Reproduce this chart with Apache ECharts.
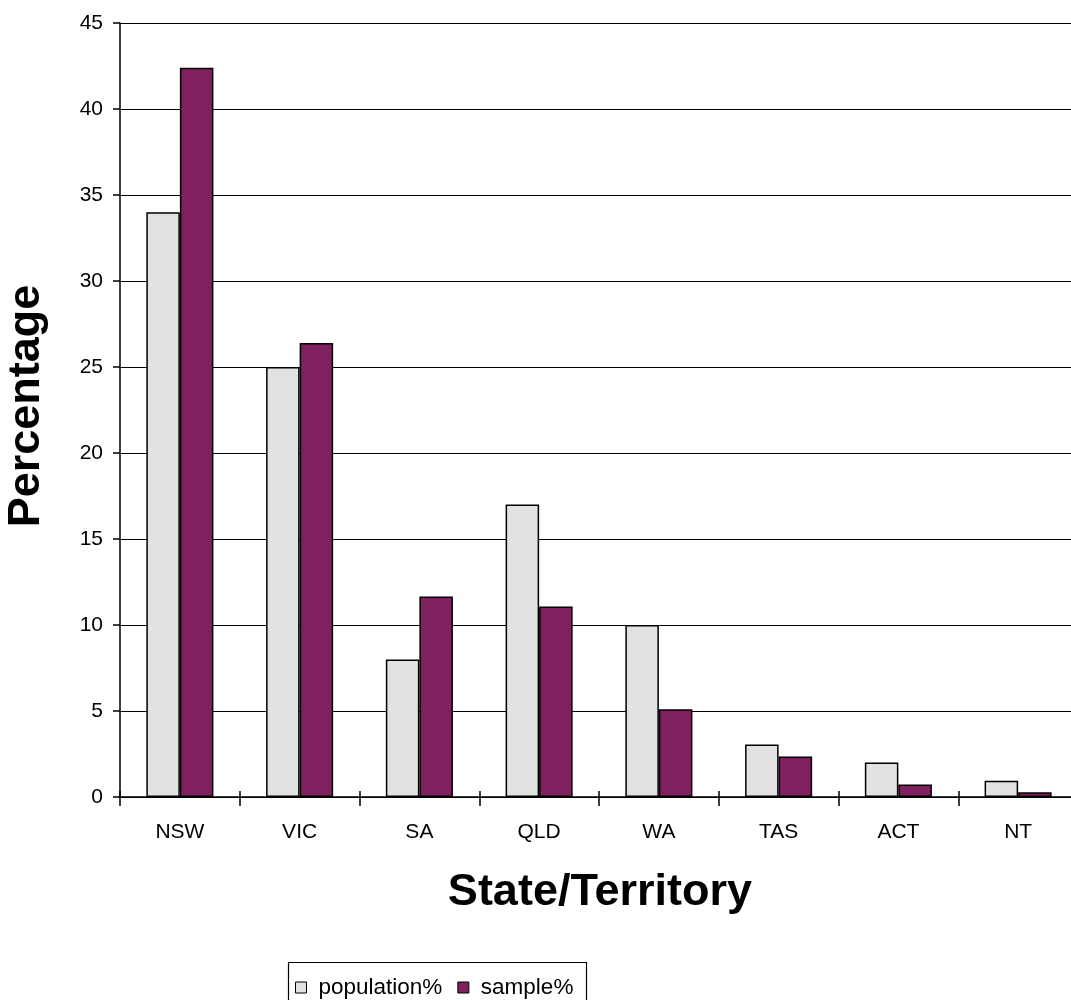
<!DOCTYPE html>
<html>
<head>
<meta charset="utf-8">
<script src="https://cdn.jsdelivr.net/npm/echarts@6/dist/echarts.min.js"></script>
<style>
  html, body { margin: 0; padding: 0; background: #fff; overflow: hidden; }
  /* canvas slightly wider than the window so the plot area runs off the right edge */
  #chart { width: 1078px; height: 1000px; }
</style>
</head>
<body>
<div id="chart"></div>
<script>
// State / territory shares: population vs. survey sample
const categories = ['NSW', 'VIC', 'SA', 'QLD', 'WA', 'TAS', 'ACT', 'NT'];
const populationPct = [34.0, 25.0, 8.0, 17.0, 10.0, 3.05, 2.0, 0.95];
const samplePct = [42.4, 26.4, 11.65, 11.07, 5.1, 2.35, 0.72, 0.27];
const yTicks = { min: 0, max: 45, step: 5 };

const font = 'Liberation Sans, Arial, sans-serif';
const chart = echarts.init(document.getElementById('chart'), null, { renderer: 'canvas' });

chart.setOption({
  backgroundColor: '#ffffff',
  animation: false,
  textStyle: { fontFamily: font, color: '#000' },
  grid: { left: 120, right: 0, top: 23, bottom: 203, containLabel: false },
  legend: {
    data: ['population%', 'sample%'],
    left: 295,
    top: 976,
    padding: 0,
    itemWidth: 11,
    itemHeight: 11,
    itemGap: 15,
    icon: 'rect',
    itemStyle: { borderColor: '#000', borderWidth: 1 },
    textStyle: { fontFamily: font, fontSize: 22.5, color: '#000', padding: [0, 0, 0, 7] }
  },
  xAxis: [
    {
      type: 'category',
      data: categories,
      boundaryGap: true,
      axisLine: { show: true, lineStyle: { color: '#000', width: 1.5 } },
      axisTick: { show: true, interval: 0, length: 9, lineStyle: { color: '#000', width: 1.5 } },
      axisLabel: { fontFamily: font, fontSize: 21, color: '#000', margin: 25, interval: 0 },
      splitLine: { show: false }
    },
    {
      type: 'category',
      data: categories,
      position: 'bottom',
      boundaryGap: true,
      axisLine: { show: false },
      axisTick: { show: true, inside: true, interval: 0, length: 6, lineStyle: { color: '#000', width: 1.5 } },
      axisLabel: { show: false },
      splitLine: { show: false }
    }
  ],
  yAxis: {
    type: 'value',
    min: yTicks.min,
    max: yTicks.max,
    interval: yTicks.step,
    axisLine: { show: true, lineStyle: { color: '#000', width: 1.5 } },
    axisTick: { show: true, length: 7, lineStyle: { color: '#000', width: 1.5 } },
    axisLabel: { fontFamily: font, fontSize: 21, color: '#000', margin: 17 },
    splitLine: { show: true, lineStyle: { color: '#000', width: 1.2 } }
  },
  series: [
    {
      name: 'population%',
      type: 'bar',
      data: populationPct,
      barGap: '0%',
      barCategoryGap: '44%',
      itemStyle: { color: '#e2e2e2', borderColor: '#000', borderWidth: 1.5 }
    },
    {
      name: 'sample%',
      type: 'bar',
      data: samplePct,
      itemStyle: { color: '#80205e', borderColor: '#000', borderWidth: 1.5 }
    }
  ],
  graphic: [
    {
      type: 'text',
      x: 600,
      y: 893,
      style: {
        text: 'State/Territory',
        fontFamily: font,
        fontSize: 45,
        fontWeight: 'bold',
        fill: '#000',
        textAlign: 'center',
        textVerticalAlign: 'middle'
      }
    },
    {
      type: 'text',
      x: 27,
      y: 406,
      rotation: Math.PI / 2,
      style: {
        text: 'Percentage',
        fontFamily: font,
        fontSize: 45,
        fontWeight: 'bold',
        fill: '#000',
        textAlign: 'center',
        textVerticalAlign: 'middle'
      }
    },
    {
      type: 'rect',
      shape: { x: 288.5, y: 962.5, width: 298, height: 60 },
      style: { fill: 'none', stroke: '#000', lineWidth: 1.2 },
      silent: true
    }
  ]
});
</script>
</body>
</html>
